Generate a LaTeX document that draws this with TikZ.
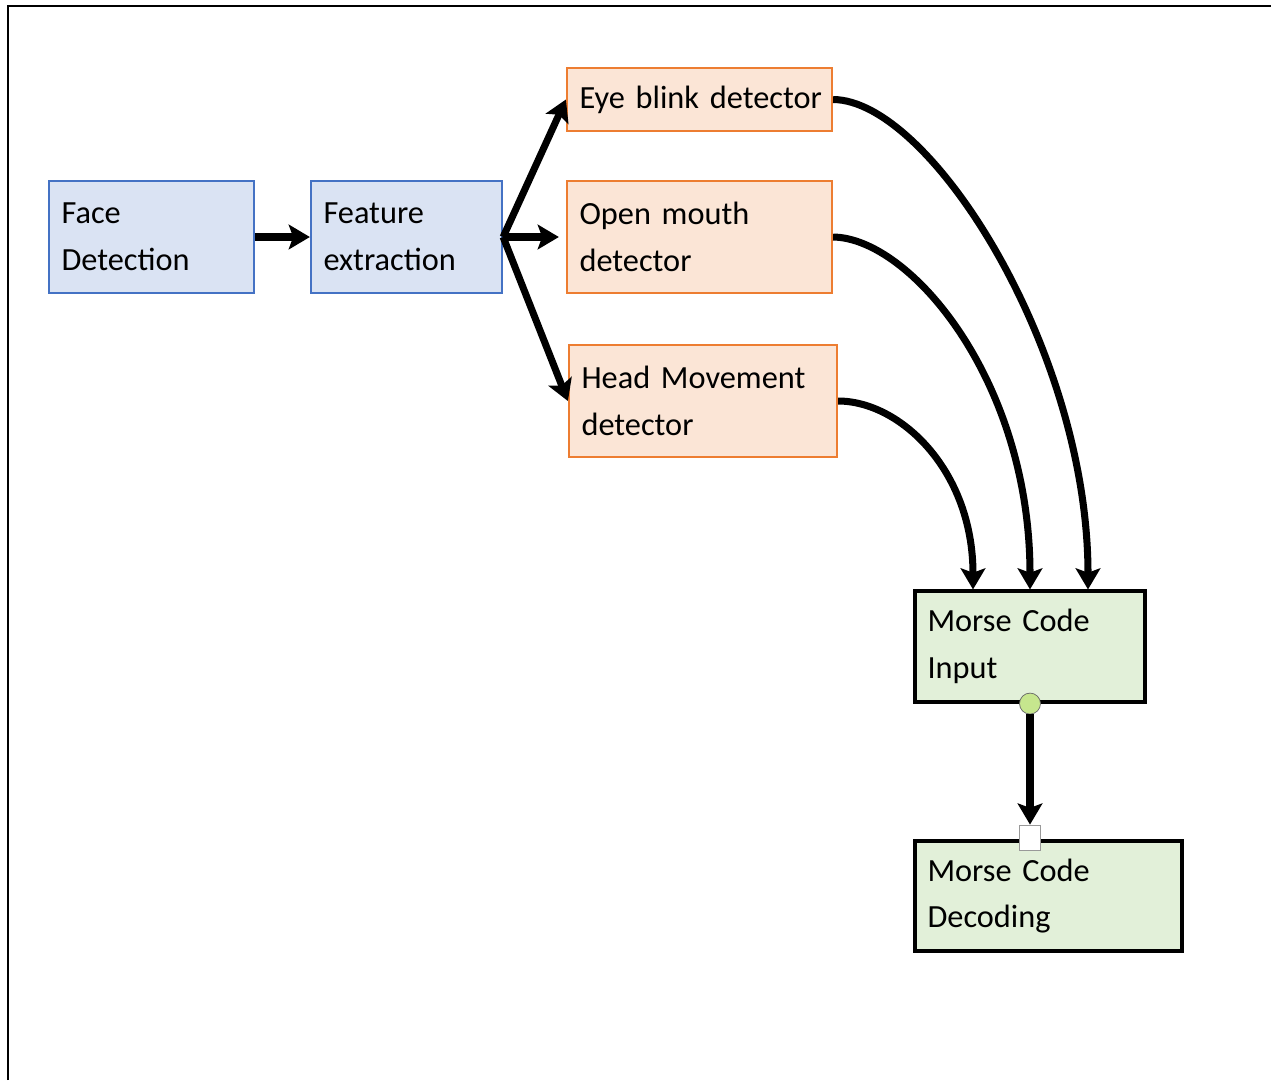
\documentclass[tikz,border=0pt]{standalone}
\usepackage{fontspec}
\setmainfont{Carlito}
\usetikzlibrary{arrows.meta,calc}
\definecolor{blueline}{HTML}{4472C4}
\definecolor{bluefill}{HTML}{DAE3F3}
\definecolor{orangeline}{HTML}{ED7D31}
\definecolor{orangefill}{HTML}{FBE5D6}
\definecolor{greenfill}{HTML}{E2F0D9}
\definecolor{dotfill}{HTML}{C6E68E}

\begin{document}
\begin{tikzpicture}[x=0.02cm,y=-0.02cm,
  box/.style={rectangle,align=left,inner xsep=0.25cm,inner ysep=0pt,
    font=\fontsize{18.4}{26.7}\selectfont},
  bluebox/.style={box,draw=blueline,fill=bluefill,line width=1.3pt},
  orangebox/.style={box,draw=orangeline,fill=orangefill,line width=1.3pt},
  greenbox/.style={box,draw=black,fill=greenfill,line width=1.8pt},
  flow/.style={line width=4pt,-{Stealth[length=12pt,width=14pt,inset=2.5pt]}}]
  \useasboundingbox (0,0) rectangle (1271,1080);
  \draw[line width=1.2pt] (8,1080) -- (8,6) -- (1271,6);

  % first stage
  \node[bluebox,text width=3.6cm,minimum height=2.24cm] (face) at (151.5,237) {Face\\Detection};
  \node[bluebox,text width=3.32cm,minimum height=2.24cm] (feat) at (406.5,237) {Feature\\extraction};

  % detectors
  \node[orangebox,text width=4.8cm,minimum height=1.26cm] (eye) at (699.5,99.5) {\mbox{Eye blink detector}};
  \node[orangebox,text width=4.8cm,minimum height=2.24cm] (mouth) at (699.5,237) {Open mouth\\detector};
  \node[orangebox,text width=4.86cm,minimum height=2.24cm] (head) at (703,401) {Head Movement\\detector};

  % morse code part
  \node[greenbox,text width=4.1cm,minimum height=2.22cm] (input) at (1030,646.5) {Morse Code\\Input};
  \node[greenbox,text width=4.84cm,minimum height=2.2cm] (decode) at (1048.5,896) {Morse Code\\Decoding};

  \draw[flow] (face) -- (feat);
  \draw[flow] (feat.east) -- (eye.west);
  \draw[flow,shorten >=4pt] (feat.east) -- (mouth.west);
  \draw[flow] (feat.east) -- (head.west);

  \draw[flow] (eye.east) .. controls (930,100) and (1088,350) .. ($(input.north)+(58,0)$);
  \draw[flow] (mouth.east) .. controls (910,238) and (1030,380) .. (input.north);
  \draw[flow] (head.east) .. controls (900,401) and (973,470) .. ($(input.north)+(-57,0)$);

  \node[circle,draw=black!60,fill=dotfill,inner sep=0pt,minimum size=0.42cm] (dot) at (input.south) {};
  \node[rectangle,draw=black!40,fill=white,inner sep=0pt,minimum width=0.42cm,minimum height=0.5cm] (sq) at ($(input.south |- decode.north)+(0,-2)$) {};
  \draw[flow] (dot) -- (sq);
\end{tikzpicture}
\end{document}
